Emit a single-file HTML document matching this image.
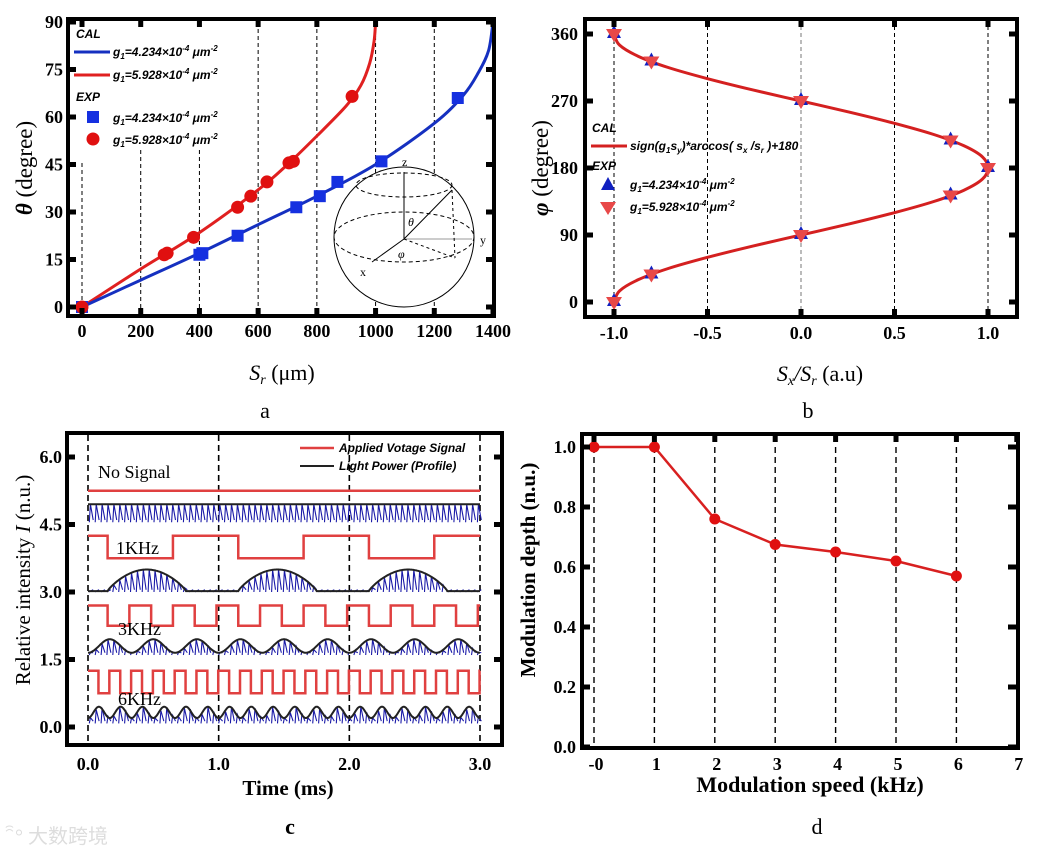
<!DOCTYPE html>
<html><head><meta charset="utf-8"><style>
html,body{margin:0;padding:0;background:#fff;}
svg{display:block;}
text{font-family:"Liberation Serif",serif;}
.tk{font-weight:bold;font-size:18px;}
.lg{font-family:"Liberation Sans",sans-serif;font-style:italic;font-weight:bold;font-size:12px;}
</style></head><body>
<svg id="fig" width="1038" height="856" viewBox="0 0 1038 856" xmlns="http://www.w3.org/2000/svg">
<g id="pa"></g>
<g id="pb"></g>
<g id="pc"></g>
<g id="pd"></g>
<text x="15" y="843" font-size="20" fill="#ddd" font-family="Noto Sans CJK SC, sans-serif">ꩰ° 大数跨境</text>
</svg>
<script>
// ---- Panel a data ----
const aRedCurveX=[0,200,400,600,700,800,900,950,980,995,1000];
const aRedCurveY=[0,12,23.5,37,45,54,63.5,70,77,84,90];
const aBlueCurveX=[0,200,400,600,800,1000,1200,1300,1350,1385,1400];
const aBlueCurveY=[0,8.5,17,26,35,45,58,67,74,81,90];
const aRedPtsX=[0,280,290,380,530,575,630,705,720,920];
const aRedPtsY=[0,16.5,17,22,31.5,35,39.5,45.5,46,66.5];
const aBluePtsX=[0,400,410,530,730,810,870,1020,1280];
const aBluePtsY=[0,16.5,17,22.5,31.5,35,39.5,46,66];
const aXTicks=[0,200,400,600,800,1000,1200,1400];
const aYTicks=[0,15,30,45,60,75,90];
// ---- Panel b data ----
const bCurvePhi=[0,15,30,45,60,75,90,105,120,135,150,165,180,195,210,225,240,255,270,285,300,315,330,345,360];
const bCurveX=[-1,-0.97,-0.87,-0.71,-0.5,-0.26,0,0.26,0.5,0.71,0.87,0.97,1,0.97,0.87,0.71,0.5,0.26,0,-0.26,-0.5,-0.71,-0.87,-0.97,-1];
const bPtsX=[-1,-0.8,0,0.8,1,0.8,0,-0.8,-1];
const bPtsPhi=[0,37,90,143,180,217,270,323,360];
const bXTicks=[-1.0,-0.5,0.0,0.5,1.0];
const bYTicks=[0,90,180,270,360];
// ---- Panel c data ----
const cFreqs=[0,1,3,6];
const cRedHigh=[5.25,4.25,2.7,1.25];
const cRedLow=[5.25,3.75,2.25,0.75];
const cRedOffset=[0,0.15,0.15,0.08];
const cBlueBase=[4.55,3.0,1.6,0.08];
const cBlueEnvLow=[4.9,3.02,1.65,0.2];
const cBlueEnvHigh=[4.95,3.5,1.95,0.45];
const cXTicks=[0,1,2,3];
const cYTicks=[0,1.5,3,4.5,6];
// ---- Panel d data ----
const dSpeed=[0,1,2,3,4,5,6];
const dDepth=[1.0,1.0,0.76,0.675,0.65,0.62,0.57];
const dXTicks=[0,1,2,3,4,5,6,7];
const dXLabels=["-0","1","2","3","4","5","6","7"];
const dYTicks=[0,0.2,0.4,0.6,0.8,1.0];

const NS="http://www.w3.org/2000/svg";
function mk(p,tag,at,txt){const e=document.createElementNS(NS,tag);for(const k in at)e.setAttribute(k,at[k]);if(txt!==undefined)e.textContent=txt;p.appendChild(e);return e;}
function smooth(pts){let d="M"+pts[0][0]+","+pts[0][1];for(let i=0;i<pts.length-1;i++){const p0=pts[i-1]||pts[i],p1=pts[i],p2=pts[i+1],p3=pts[i+2]||p2;const c1=[p1[0]+(p2[0]-p0[0])/6,p1[1]+(p2[1]-p0[1])/6],c2=[p2[0]-(p3[0]-p1[0])/6,p2[1]-(p3[1]-p1[1])/6];d+=" C"+c1+" "+c2+" "+p2;}return d;}
function frame(g,x0,y0,x1,y1){const r=mk(g,"rect",{x:x0,y:y0,width:x1-x0,height:y1-y0,fill:"none",stroke:"#000","stroke-width":4});

}
function tick(g,x1,y1,x2,y2){mk(g,"line",{x1,y1,x2,y2,stroke:"#000","stroke-width":5});}

// ================= Panel a =================
(function(){
const g=document.getElementById("pa");
const X=v=>82+v*411/1400, Y=v=>307-v*285/90;
aXTicks.slice(0,7).forEach(v=>{const top=v<=400?(v==0?163:150):22;const l=mk(g,"line",{x1:X(v),y1:top,x2:X(v),y2:315,stroke:"#000","stroke-width":1,"stroke-dasharray":"4,3"});

});
const s=mk(g,"g",{fill:"none",stroke:"#000","stroke-width":1});


mk(s,"circle",{cx:404,cy:237,r:70,fill:"#fff"});
mk(s,"ellipse",{cx:404,cy:237,rx:70,ry:25,"stroke-dasharray":"4,3"});
mk(s,"ellipse",{cx:404,cy:185,rx:48,ry:12,"stroke-dasharray":"4,3"});
mk(s,"line",{x1:404,y1:239,x2:404,y2:172});
mk(s,"line",{x1:404,y1:239,x2:472,y2:239,stroke:"#999"});
mk(s,"line",{x1:404,y1:239,x2:372,y2:262});
mk(s,"line",{x1:404,y1:239,x2:452,y2:190});
mk(s,"line",{x1:452,y1:190,x2:455,y2:258,"stroke-dasharray":"3,3"});
mk(s,"line",{x1:404,y1:239,x2:455,y2:258,"stroke-dasharray":"3,3"});
mk(g,"text",{x:402,y:166,"font-size":12},"z");
mk(g,"text",{x:480,y:244,"font-size":12},"y");
mk(g,"text",{x:360,y:276,"font-size":12},"x");
mk(g,"text",{x:408,y:226,"font-size":12,"font-style":"italic"},"θ");
mk(g,"text",{x:398,y:258,"font-size":12,"font-style":"italic"},"φ");
const rc=mk(g,"path",{d:smooth(aRedCurveX.map((x,i)=>[X(x),Y(aRedCurveY[i])])),fill:"none",stroke:"#e02020","stroke-width":3});


const bc=mk(g,"path",{d:smooth(aBlueCurveX.map((x,i)=>[X(x),Y(aBlueCurveY[i])])),fill:"none",stroke:"#1530c0","stroke-width":3});


aBluePtsX.forEach((x,i)=>{const r=mk(g,"rect",{x:X(x)-6,y:Y(aBluePtsY[i])-6,width:12,height:12,fill:"#1530e0"});

});
aRedPtsX.forEach((x,i)=>{const c=mk(g,"circle",{cx:X(x),cy:Y(aRedPtsY[i]),r:6.5,fill:"#e01010"});

});
frame(g,68,19,494,316);
aYTicks.forEach(v=>{tick(g,68,Y(v),76,Y(v));tick(g,486,Y(v),494,Y(v));
const t=mk(g,"text",{x:63,y:Y(v)+6,"text-anchor":"end",class:"tk"},String(v));

});
aXTicks.forEach(v=>{tick(g,X(v),19,X(v),27);tick(g,X(v),308,X(v),316);
const t=mk(g,"text",{x:X(v),y:337,"text-anchor":"middle",class:"tk"},String(v));

});
const xt=mk(g,"text",{x:282,y:380,"text-anchor":"middle","font-size":22},"");
xt.innerHTML='<tspan font-style="italic">S</tspan><tspan font-style="italic" font-size="14" dy="4">r</tspan><tspan dy="-4"> (μm)</tspan>';


const yt=mk(g,"text",{x:0,y:0,transform:"translate(32,168) rotate(-90)","text-anchor":"middle","font-size":23},"");
yt.innerHTML='<tspan font-style="italic" font-weight="bold">θ</tspan> (degree)';


mk(g,"text",{x:265,y:418,"text-anchor":"middle","font-size":22,"font-family":"Liberation Sans, sans-serif"},"a");
const lg=mk(g,"g",{});


mk(lg,"text",{x:76,y:38,class:"lg"},"CAL");
mk(lg,"line",{x1:74,y1:52,x2:110,y2:52,stroke:"#1530c0","stroke-width":3});
mk(lg,"line",{x1:74,y1:75,x2:110,y2:75,stroke:"#e02020","stroke-width":3});
mk(lg,"text",{x:76,y:101,class:"lg"},"EXP");
mk(lg,"rect",{x:87,y:111,width:12,height:12,fill:"#1530e0"});
mk(lg,"circle",{cx:93,cy:139,r:6.5,fill:"#e01010"});
const lbls=[["4.234",56],["5.928",79],["4.234",122],["5.928",144]];
lbls.forEach(([n,y])=>{const t=mk(lg,"text",{x:113,y:y,class:"lg"},"");
t.innerHTML='g<tspan font-size="8" dy="3">1</tspan><tspan dy="-3">='+n+'×10</tspan><tspan font-size="8" dy="-5">-4</tspan><tspan dy="5"> μm</tspan><tspan font-size="8" dy="-5">-2</tspan>';

});
})();

// ================= Panel b =================
(function(){
const g=document.getElementById("pb");
const X=v=>801+v*187, Y=v=>302-v*268/360;
bXTicks.forEach(v=>{const l=mk(g,"line",{x1:X(v),y1:19,x2:X(v),y2:317,stroke:v==0?"#777":"#000","stroke-width":1,"stroke-dasharray":"4,3"});

});
const c=mk(g,"path",{d:smooth(bCurvePhi.map((p,i)=>[X(bCurveX[i]),Y(p)])),fill:"none",stroke:"#d42020","stroke-width":3});


bPtsX.forEach((x,i)=>{const px=X(x),py=Y(bPtsPhi[i]);
const u=mk(g,"polygon",{points:`${px},${py-9} ${px-7},${py+4} ${px+7},${py+4}`,fill:"#1020c0"});


const d=mk(g,"polygon",{points:`${px-8},${py-5} ${px+8},${py-5} ${px},${py+8}`,fill:"#e84848"});

});
frame(g,585,19,1017,317);
bYTicks.forEach(v=>{tick(g,585,Y(v),593,Y(v));tick(g,1009,Y(v),1017,Y(v));
const t=mk(g,"text",{x:578,y:Y(v)+6,"text-anchor":"end",class:"tk"},String(v));

});
bXTicks.forEach(v=>{tick(g,X(v),19,X(v),27);tick(g,X(v),309,X(v),317);
const t=mk(g,"text",{x:X(v),y:339,"text-anchor":"middle",class:"tk"},v.toFixed(1));

});
const xt=mk(g,"text",{x:820,y:381,"text-anchor":"middle","font-size":22},"");
xt.innerHTML='<tspan font-style="italic">S</tspan><tspan font-style="italic" font-size="14" dy="4">x</tspan><tspan dy="-4" font-style="italic">/S</tspan><tspan font-style="italic" font-size="14" dy="4">r</tspan><tspan dy="-4"> (a.u)</tspan>';


const yt=mk(g,"text",{x:0,y:0,transform:"translate(548,168) rotate(-90)","text-anchor":"middle","font-size":23},"");
yt.innerHTML='<tspan font-style="italic" font-weight="bold">φ</tspan> (degree)';


mk(g,"text",{x:808,y:418,"text-anchor":"middle","font-size":22,"font-family":"Liberation Sans, sans-serif"},"b");
const lg=mk(g,"g",{});


mk(lg,"text",{x:592,y:132,class:"lg"},"CAL");
mk(lg,"line",{x1:591,y1:146,x2:627,y2:146,stroke:"#d42020","stroke-width":3});
const f=mk(lg,"text",{x:630,y:150,class:"lg"},"");
f.innerHTML='sign(g<tspan font-size="8" dy="3">1</tspan><tspan dy="-3">s</tspan><tspan font-size="8" dy="3">y</tspan><tspan dy="-3">)*arccos( s</tspan><tspan font-size="8" dy="3">x</tspan><tspan dy="-3"> /s</tspan><tspan font-size="8" dy="3">r</tspan><tspan dy="-3"> )+180</tspan>';
mk(lg,"text",{x:592,y:170,class:"lg"},"EXP");
mk(lg,"polygon",{points:"608,177 601,190 615,190",fill:"#1020c0"});
mk(lg,"polygon",{points:"600,202 616,202 608,215",fill:"#e84848"});
[["4.234",189],["5.928",211]].forEach(([n,y])=>{const t=mk(lg,"text",{x:630,y:y,class:"lg"},"");
t.innerHTML='g<tspan font-size="8" dy="3">1</tspan><tspan dy="-3">='+n+'×10</tspan><tspan font-size="8" dy="-5">-4</tspan><tspan dy="5"> μm</tspan><tspan font-size="8" dy="-5">-2</tspan>';

});
})();

// ================= Panel c =================
(function(){
const g=document.getElementById("pc");
const X=v=>88+v*392/3, Y=v=>727-v*45;
cXTicks.forEach(v=>{const l=mk(g,"line",{x1:X(v),y1:435,x2:X(v),y2:744,stroke:"#000","stroke-width":1.6,"stroke-dasharray":"6,4"});

});
const names=["no-signal","1khz","3khz","6khz"];
cFreqs.forEach((f,k)=>{
 let d;
 if(f===0){d=`M${X(0)},${Y(cRedHigh[k])} L${X(3)},${Y(cRedHigh[k])}`;}
 else{const half=0.5/f;let hi=true;d=`M${X(0)},${Y(cRedHigh[k])}`;let next=cRedOffset[k];
  while(next<3){d+=` L${X(next)},${Y(hi?cRedHigh[k]:cRedLow[k])} L${X(next)},${Y(hi?cRedLow[k]:cRedHigh[k])}`;hi=!hi;next+=half;}
  d+=` L${X(3)},${Y(hi?cRedHigh[k]:cRedLow[k])}`;}
 const r=mk(g,"path",{d,fill:"none",stroke:"#e04040","stroke-width":2.5});
 
 
 const env=t=>{if(f===0)return cBlueEnvHigh[k];const s=(0.5-0.5*Math.cos(2*Math.PI*((t*f)%1)));
  return cBlueEnvLow[k]+(cBlueEnvHigh[k]-cBlueEnvLow[k])*(f===1?Math.pow(Math.max(0,Math.sin(Math.PI*((t-0.15+1)%1)/0.6)),0.8)*(((t-0.15+1)%1)<0.6?1:0):s);};
 let sp="";let ev="";
 for(let i=0;i<=600;i++){const t=i*3/600;const e=env(t);ev+=(i?" L":"M")+X(t).toFixed(1)+","+Y(e).toFixed(1);}
 for(let t=0.01;t<3;t+=0.045){const e=env(t);sp+=`M${X(t).toFixed(1)},${Y(cBlueBase[k])} L${X(t+0.008).toFixed(1)},${Y(e)} L${X(t+0.03).toFixed(1)},${Y(cBlueBase[k]+0.05)}`;}
 const b=mk(g,"path",{d:sp,fill:"none",stroke:"#1a1aa8","stroke-width":1.1});
 
 
 const e=mk(g,"path",{d:ev,fill:"none",stroke:"#222","stroke-width":2});
 
 
});
frame(g,67,433,502,745);
cYTicks.forEach(v=>{tick(g,67,Y(v),75,Y(v));tick(g,494,Y(v),502,Y(v));
const t=mk(g,"text",{x:62,y:Y(v)+6,"text-anchor":"end",class:"tk"},v.toFixed(1));

});
cXTicks.forEach(v=>{const t=mk(g,"text",{x:X(v),y:770,"text-anchor":"middle",class:"tk"},v.toFixed(1));

});
[["No Signal",98,478],["1KHz",116,554],["3KHz",118,635],["6KHz",118,705]].forEach(([s,x,y])=>{const t=mk(g,"text",{x,y,"font-size":18},s);

});
const xt=mk(g,"text",{x:288,y:795,"text-anchor":"middle","font-size":21,"font-weight":"bold"},"Time (ms)");


const yt=mk(g,"text",{x:0,y:0,transform:"translate(30,580) rotate(-90)","text-anchor":"middle","font-size":21},"");
yt.innerHTML='Relative intensity <tspan font-style="italic">I</tspan> (n.u.)';


mk(g,"text",{x:290,y:834,"text-anchor":"middle","font-size":22,"font-weight":"bold"},"c");
const lg=mk(g,"g",{});


mk(lg,"line",{x1:300,y1:448,x2:334,y2:448,stroke:"#e04040","stroke-width":2.5});
mk(lg,"text",{x:339,y:452,class:"lg"},"Applied Votage Signal");
mk(lg,"line",{x1:300,y1:466,x2:334,y2:466,stroke:"#222","stroke-width":2});
mk(lg,"text",{x:339,y:470,class:"lg"},"Light Power (Profile)");
})();

// ================= Panel d =================
(function(){
const g=document.getElementById("pd");
const X=v=>594+v*60.4, Y=v=>747-v*300;
dSpeed.forEach(v=>{const l=mk(g,"line",{x1:X(v),y1:Y(1),x2:X(v),y2:747,stroke:"#000","stroke-width":1.4,"stroke-dasharray":"6,4"});

});
const ln=mk(g,"polyline",{points:dSpeed.map((s,i)=>X(s)+","+Y(dDepth[i])).join(" "),fill:"none",stroke:"#d82020","stroke-width":2.5});


dSpeed.forEach((s,i)=>{const c=mk(g,"circle",{cx:X(s),cy:Y(dDepth[i]),r:5.5,fill:"#e01010"});

});
frame(g,582,434,1018,748);
dYTicks.forEach(v=>{tick(g,582,Y(v),590,Y(v));tick(g,1008,Y(v),1018,Y(v));
const t=mk(g,"text",{x:576,y:Y(v)+6,"text-anchor":"end",class:"tk"},v.toFixed(1));

});
dXTicks.forEach((v,i)=>{tick(g,X(v),434,X(v),442);
const t=mk(g,"text",{x:X(v)+2,y:770,"text-anchor":"middle",class:"tk"},dXLabels[i]);

});
const xt=mk(g,"text",{x:810,y:792,"text-anchor":"middle","font-size":22,"font-weight":"bold"},"Modulation speed (kHz)");


const yt=mk(g,"text",{x:0,y:0,transform:"translate(535,570) rotate(-90)","text-anchor":"middle","font-size":21,"font-weight":"bold"},"Modulation depth (n.u.)");


mk(g,"text",{x:817,y:834,"text-anchor":"middle","font-size":22},"d");
})();
</script>
</body></html>
